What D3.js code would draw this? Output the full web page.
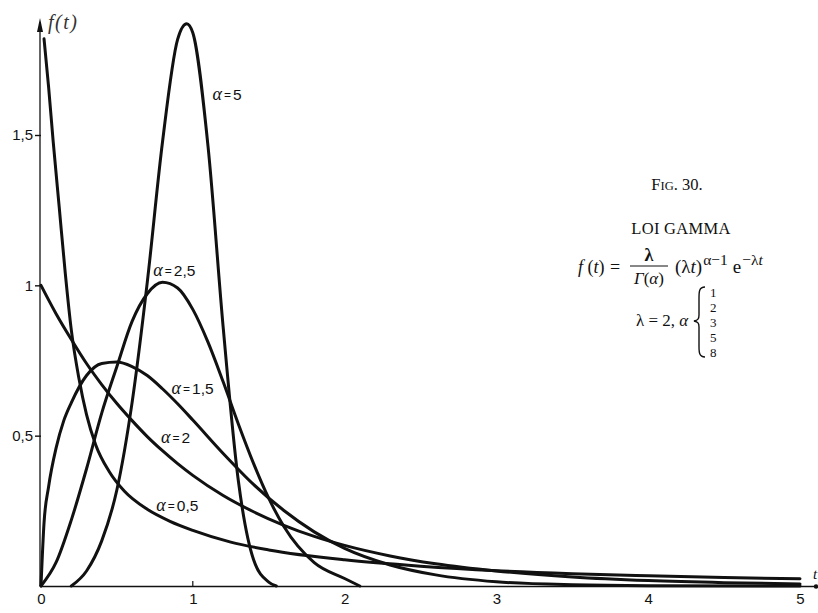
<!DOCTYPE html>
<html>
<head>
<meta charset="utf-8">
<script src="https://cdn.jsdelivr.net/npm/d3@7"></script>
<style>
  html, body { margin: 0; padding: 0; background: #fff; }
  svg { display: block; }
</style>
</head>
<body>
<svg id="chart" width="818" height="613"></svg>
<script>
// Density curves, one list of [t, f(t)] points per curve
const curveAlpha05 = [[0.02,1.82],[0.05,1.66],[0.08,1.48],[0.12,1.26],[0.16,1.04],[0.2,0.85],[0.25,0.69],[0.3,0.57],[0.36,0.47],[0.45,0.38],[0.55,0.315],[0.7,0.255],[0.85,0.215],[1.0,0.185],[1.25,0.146],[1.5,0.12],[2.0,0.087],[2.5,0.066],[3.0,0.051],[3.5,0.041],[4.0,0.034],[4.5,0.028],[5.0,0.024]];
const curveAlpha1 = [[0,1.0],[0.1,0.905],[0.2,0.82],[0.3,0.74],[0.4,0.67],[0.5,0.607],[0.6,0.55],[0.7,0.497],[0.8,0.45],[0.9,0.407],[1.0,0.368],[1.2,0.301],[1.4,0.247],[1.6,0.202],[1.8,0.165],[2.0,0.135],[2.3,0.10],[2.6,0.074],[3.0,0.05],[3.5,0.03],[4.0,0.018],[4.5,0.011],[5.0,0.007]];
const curveAlpha15 = [[0,0],[0.02,0.21],[0.05,0.33],[0.1,0.46],[0.15,0.55],[0.2,0.61],[0.3,0.70],[0.4,0.74],[0.5,0.745],[0.6,0.73],[0.7,0.70],[0.8,0.656],[0.9,0.606],[1.0,0.552],[1.2,0.441],[1.4,0.338],[1.6,0.251],[1.8,0.18],[2.0,0.125],[2.3,0.07],[2.6,0.037],[3.0,0.014],[3.5,0.004],[4.0,0.001],[5.0,0]];
const curveAlpha25 = [[0,0],[0.1,0.079],[0.2,0.22],[0.3,0.39],[0.4,0.575],[0.5,0.73],[0.6,0.88],[0.7,0.972],[0.8,1.01],[0.9,0.991],[1.0,0.92],[1.1,0.811],[1.2,0.679],[1.3,0.539],[1.4,0.408],[1.5,0.292],[1.6,0.198],[1.8,0.078],[2.0,0.025],[2.1,0.0]];
const curveAlpha5 = [[0.2,0],[0.3,0.05],[0.4,0.15],[0.5,0.32],[0.6,0.61],[0.7,1.01],[0.8,1.475],[0.9,1.818],[0.96,1.87],[1.0,1.84],[1.1,1.464],[1.2,0.861],[1.3,0.35],[1.4,0.088],[1.5,0.013],[1.55,0]];

const seriesCurves = [curveAlpha05, curveAlpha1, curveAlpha15, curveAlpha25, curveAlpha5];

// Curve labels: text and the [t, f] point where each label starts
const labelTexts = ["5", "2,5", "1,5", "2", "0,5"];
const labelAnchors = [[1.13,1.615],[0.74,1.03],[0.86,0.64],[0.79,0.475],[0.76,0.25]];

const xTickValues = [0, 1, 2, 3, 4, 5];
const yTickValues = [0.5, 1, 1.5];
const alphaValues = ["1", "2", "3", "5", "8"];

const svg = d3.select("#chart");
const x = d3.scaleLinear().domain([0, 5]).range([41, 800]);
const y = d3.scaleLinear().domain([0, 1.5]).range([586, 135]);
const ink = "#111";
const sans = "'Liberation Sans', Arial, sans-serif";
const serif = "'Liberation Serif', 'Times New Roman', serif";

// Axes
const yAxis = d3.axisLeft(y).tickValues(yTickValues).tickSize(6).tickPadding(2)
  .tickFormat(d => String(d).replace(".", ","));
const gy = svg.append("g").attr("transform", `translate(${x(0)},0)`).call(yAxis);
gy.select(".domain").remove();
gy.selectAll("line").attr("stroke", ink).attr("stroke-width", 1.4);
gy.selectAll("text").attr("font-family", sans).attr("font-size", 15).attr("fill", ink);

const xAxis = d3.axisBottom(x).tickValues(xTickValues).tickSize(0).tickPadding(7)
  .tickFormat(d3.format("d"));
const gx = svg.append("g").attr("transform", `translate(0,${y(0)})`).call(xAxis);
gx.select(".domain").remove();
gx.selectAll("text").attr("font-family", sans).attr("font-size", 15).attr("fill", ink);

// axis lines with arrow ends
svg.append("line").attr("x1", x(0) - 1).attr("x2", x(0) - 1).attr("y1", y(0)).attr("y2", 22)
  .attr("stroke", ink).attr("stroke-width", 1.3);
svg.append("path").attr("d", `M${x(0)-1},18 L${x(0)-4},32 L${x(0)+2},32 Z`).attr("fill", ink);
svg.append("line").attr("x1", x(0)).attr("x2", 816).attr("y1", y(0) + 0.5).attr("y2", y(0) + 0.5)
  .attr("stroke", ink).attr("stroke-width", 1.6);
svg.append("circle").attr("cx", 816).attr("cy", y(0) + 0.5).attr("r", 2.2).attr("fill", ink);
svg.append("line").attr("x1", x(1)).attr("x2", x(1)).attr("y1", y(0) - 5).attr("y2", y(0))
  .attr("stroke", ink).attr("stroke-width", 1.2);

svg.append("text").attr("x", 48).attr("y", 29).attr("font-family", serif)
  .attr("font-style", "italic").attr("font-size", 20).attr("fill", "#333")
  .attr("letter-spacing", 1.5).text("f(t)");
svg.append("text").attr("x", 813).attr("y", 579).attr("font-family", serif)
  .attr("font-style", "italic").attr("font-size", 15).attr("fill", ink).text("t");

// Curves
const line = d3.line().x(d => x(d[0])).y(d => y(d[1])).curve(d3.curveMonotoneX);
svg.append("g").selectAll("path").data(seriesCurves).join("path")
  .attr("d", line).attr("fill", "none").attr("stroke", ink)
  .attr("stroke-width", 3).attr("stroke-linejoin", "round").attr("stroke-linecap", "round");

// Curve labels
const lab = svg.append("g").selectAll("text").data(labelTexts).join("text")
  .attr("x", (d, i) => x(labelAnchors[i][0])).attr("y", (d, i) => y(labelAnchors[i][1]))
  .attr("font-family", sans).attr("font-size", 15.5).attr("fill", ink);
lab.append("tspan").attr("font-family", serif).attr("font-style", "italic")
  .attr("font-size", 18).text("α");
lab.append("tspan").attr("font-size", 12).attr("dx", 2).attr("dy", -1).text("=");
lab.append("tspan").attr("dx", 2).attr("dy", 1).text(d => d);

// Caption block
const cap = svg.append("g").attr("font-family", serif).attr("fill", ink);
const fig = cap.append("text").attr("x", 677).attr("y", 190).attr("text-anchor", "middle").attr("font-size", 16.5);
fig.append("tspan").text("F");
fig.append("tspan").attr("font-size", 12.5).text("IG");
fig.append("tspan").text(".  30.");
cap.append("text").attr("x", 681).attr("y", 234).attr("text-anchor", "middle")
  .attr("font-size", 16.5).attr("letter-spacing", 0.3).text("LOI GAMMA");

// density formula
const f1 = cap.append("text").attr("x", 578).attr("y", 273).attr("font-size", 18);
f1.append("tspan").attr("font-style", "italic").text("f");
f1.append("tspan").text(" (");
f1.append("tspan").attr("font-style", "italic").text("t");
f1.append("tspan").text(")");
cap.append("text").attr("x", 610).attr("y", 273).attr("font-size", 18).text("=");
cap.append("text").attr("x", 649).attr("y", 261).attr("text-anchor", "middle")
  .attr("font-size", 18).attr("font-weight", "bold").text("λ");
cap.append("line").attr("x1", 630).attr("x2", 668).attr("y1", 266).attr("y2", 266)
  .attr("stroke", ink).attr("stroke-width", 1);
const g1 = cap.append("text").attr("x", 649).attr("y", 284).attr("text-anchor", "middle").attr("font-size", 17);
g1.append("tspan").attr("font-style", "italic").text("Γ");
g1.append("tspan").text("(");
g1.append("tspan").attr("font-style", "italic").text("α");
g1.append("tspan").text(")");
const f2 = cap.append("text").attr("x", 675).attr("y", 273).attr("font-size", 19);
f2.append("tspan").text("(λ");
f2.append("tspan").attr("font-style", "italic").text("t");
f2.append("tspan").text(")");
f2.append("tspan").attr("font-size", 15.5).attr("dy", -8).attr("dx", 1).text("α−1");
// exponential factor follows the power term with a small gap
const f2End = 675 + f2.node().getComputedTextLength();
const f3 = cap.append("text").attr("x", f2End + 6).attr("y", 273).attr("font-size", 19);
f3.append("tspan").text("e");
f3.append("tspan").attr("font-size", 15.5).attr("dy", -8).attr("dx", 1).text("−λ");
f3.append("tspan").attr("font-size", 15.5).attr("font-style", "italic").text("t");

// parameter list
const p1 = cap.append("text").attr("x", 636).attr("y", 326).attr("font-size", 17);
p1.append("tspan").text("λ  =  2,  ");
p1.append("tspan").attr("font-style", "italic").text("α");
cap.append("path")
  .attr("d", "M705,287 C699,287 699,292 699,298 L699,315 C699,319 698,320 694,321 C698,322 699,323 699,327 L699,346 C699,352 699,357 705,357")
  .attr("fill", "none").attr("stroke", ink).attr("stroke-width", 1.4);
const stack = cap.append("text").attr("font-size", 13);
stack.selectAll("tspan").data(alphaValues).join("tspan")
  .attr("x", 710).attr("y", (d, i) => 297 + i * 15).text(d => d);
</script>
</body>
</html>
